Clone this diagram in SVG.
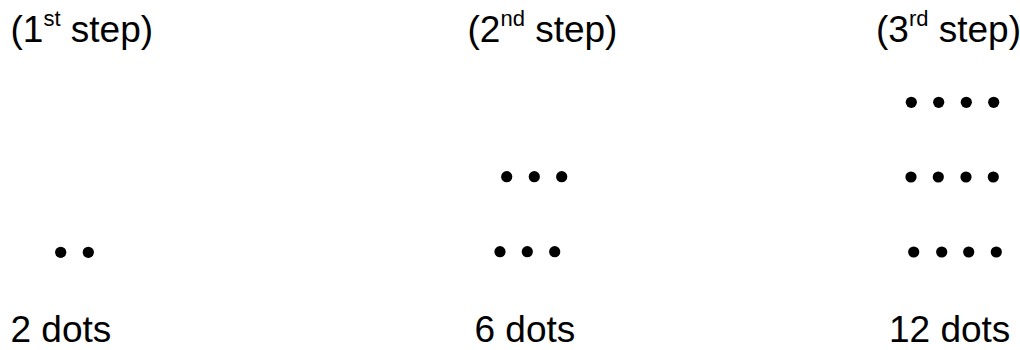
<svg xmlns="http://www.w3.org/2000/svg" width="1020" height="350" viewBox="0 0 1020 350">
  <style>
    .lbl { font-family: "Liberation Sans", Arial, sans-serif; font-size: 37px; fill: #000; }
    .sup { font-size: 22px; }
    .dot { fill: #000; }
  </style>
  <rect width="1020" height="350" fill="#fff"/>

  <!-- Step 1 -->
  <g id="step1">
    <text class="lbl" x="10.5" y="42">(1<tspan class="sup" dy="-16">st</tspan><tspan dy="16"> step)</tspan></text>
    <circle class="dot" cx="60.7" cy="252.3" r="5.6"/>
    <circle class="dot" cx="88.3" cy="252.3" r="5.6"/>
    <text class="lbl" x="10.5" y="342">2 dots</text>
  </g>

  <!-- Step 2 -->
  <g id="step2">
    <text class="lbl" x="467.5" y="42">(2<tspan class="sup" dy="-16">nd</tspan><tspan dy="16"> step)</tspan></text>
    <circle class="dot" cx="506.7" cy="176.7" r="5.6"/>
    <circle class="dot" cx="534.3" cy="176.7" r="5.6"/>
    <circle class="dot" cx="561.7" cy="176.7" r="5.6"/>
    <circle class="dot" cx="500" cy="251.7" r="5.6"/>
    <circle class="dot" cx="527.3" cy="251.7" r="5.6"/>
    <circle class="dot" cx="554.7" cy="251.7" r="5.6"/>
    <text class="lbl" x="474.5" y="342">6 dots</text>
  </g>

  <!-- Step 3 -->
  <g id="step3">
    <text class="lbl" x="876" y="42">(3<tspan class="sup" dy="-16">rd</tspan><tspan dy="16"> step)</tspan></text>
    <circle class="dot" cx="911.3" cy="102.3" r="5.6"/>
    <circle class="dot" cx="938.7" cy="102.3" r="5.6"/>
    <circle class="dot" cx="966.3" cy="102.3" r="5.6"/>
    <circle class="dot" cx="993.7" cy="102.3" r="5.6"/>
    <circle class="dot" cx="911" cy="177" r="5.6"/>
    <circle class="dot" cx="938.3" cy="177" r="5.6"/>
    <circle class="dot" cx="966" cy="177" r="5.6"/>
    <circle class="dot" cx="993.3" cy="177" r="5.6"/>
    <circle class="dot" cx="913.7" cy="252" r="5.6"/>
    <circle class="dot" cx="941.7" cy="252" r="5.6"/>
    <circle class="dot" cx="968.7" cy="252" r="5.6"/>
    <circle class="dot" cx="996.3" cy="252" r="5.6"/>
    <text class="lbl" x="889" y="342">12 dots</text>
  </g>
</svg>
